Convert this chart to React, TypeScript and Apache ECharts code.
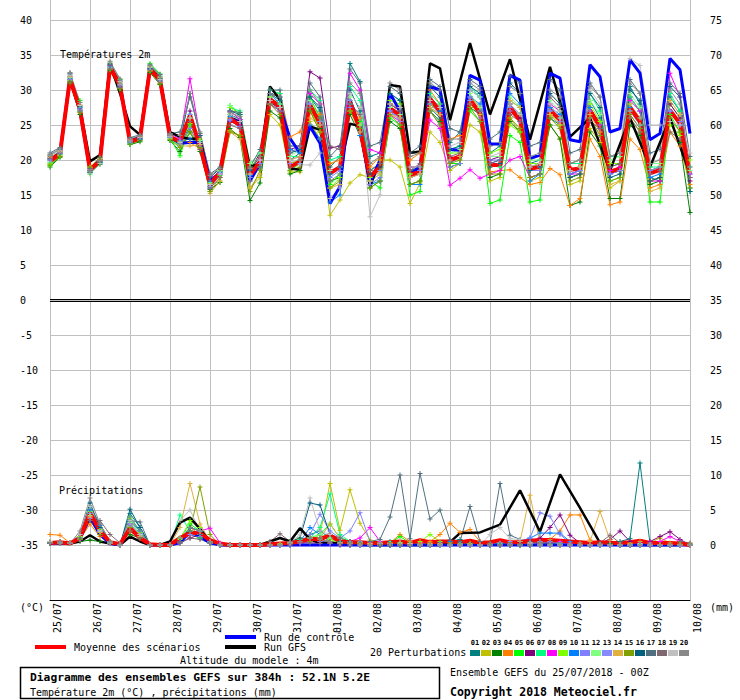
import React, { useEffect, useRef } from "react";
import * as echarts from "echarts";

// ---------- axis / tick data ----------
const dateLabels = ["25/07", "26/07", "27/07", "28/07", "29/07", "30/07", "31/07", "01/08", "02/08", "03/08", "04/08", "05/08", "06/08", "07/08", "08/08", "09/08", "10/08"];
const tempTicks = [-35, -30, -25, -20, -15, -10, -5, 0, 5, 10, 15, 20, 25, 30, 35, 40];
const precipTicks = [0, 5, 10, 15, 20, 25, 30, 35, 40, 45, 50, 55, 60, 65, 70, 75];
const stepHours = 6;

const memberIds = ["01", "02", "03", "04", "05", "06", "07", "08", "09", "10", "11", "12", "13", "14", "15", "16", "17", "18", "19", "20"];
const memberColors = ["#008080", "#c0c000", "#008000", "#ff8000", "#00ff00", "#800080", "#00ff80", "#ff00ff", "#80ff00", "#0080ff", "#8080ff", "#80ff80", "#8888ff", "#e0b040", "#80a000", "#006080", "#507080", "#806870", "#c0c0c0", "#888888"];

// ---------- temperature 2m (°C), 6-hourly ----------
const t01 = [20.2, 21.3, 32.0, 27.5, 18.4, 19.6, 33.5, 31.0, 22.8, 23.4, 33.2, 31.8, 23.6, 22.0, 25.0, 22.6, 16.0, 18.8, 26.5, 25.8, 18.6, 20.5, 29.5, 28.5, 20.0, 21.0, 29.0, 27.0, 19.0, 20.5, 33.8, 31.2, 20.5, 21.0, 28.0, 27.0, 17.5, 18.0, 27.5, 26.0, 22.5, 24.0, 30.0, 29.0, 21.0, 22.0, 28.0, 26.5, 19.5, 20.0, 26.0, 25.0, 17.5, 18.0, 28.5, 26.0, 19.0, 19.5, 30.5, 28.0, 17.5, 17.0, 29.0, 27.0, 16.0];
const t02 = [19.5, 20.6, 31.2, 26.8, 18.9, 20.2, 33.0, 30.2, 22.4, 22.8, 32.7, 31.0, 23.0, 22.2, 24.5, 21.5, 15.5, 17.0, 24.2, 23.5, 16.0, 17.5, 26.5, 25.0, 18.3, 18.3, 25.5, 23.0, 12.1, 14.3, 16.7, 17.9, 17.5, 20.0, 20.0, 19.0, 13.8, 16.7, 24.0, 22.5, 18.5, 19.5, 25.0, 24.0, 17.0, 17.5, 26.0, 24.0, 17.0, 17.5, 25.0, 23.0, 16.5, 17.0, 24.5, 22.5, 16.0, 17.0, 26.0, 24.0, 17.0, 17.5, 28.0, 26.0, 17.5];
const t03 = [19.0, 20.4, 31.0, 26.5, 18.2, 19.4, 32.8, 30.0, 22.2, 22.6, 32.5, 30.8, 22.8, 21.2, 24.0, 21.2, 15.8, 16.8, 24.5, 23.2, 14.2, 16.7, 27.0, 26.0, 18.0, 18.5, 27.0, 24.5, 17.0, 17.5, 26.5, 23.5, 16.0, 17.0, 25.5, 24.5, 16.5, 17.0, 27.0, 25.5, 19.0, 19.5, 27.5, 26.5, 17.5, 18.0, 25.5, 24.0, 17.5, 18.0, 25.0, 23.0, 13.5, 14.0, 24.0, 22.0, 14.5, 14.5, 25.0, 23.5, 16.5, 17.0, 25.5, 22.5, 12.5];
const t04 = [20.5, 21.0, 31.8, 27.8, 18.8, 20.0, 33.6, 31.2, 22.9, 23.3, 33.3, 31.6, 23.5, 22.8, 22.5, 21.6, 16.8, 18.5, 26.0, 25.5, 18.0, 20.0, 29.0, 29.5, 23.3, 24.0, 28.0, 26.5, 19.5, 20.0, 28.5, 26.0, 19.0, 20.5, 28.0, 27.5, 20.0, 21.0, 30.0, 28.0, 23.0, 23.5, 29.0, 27.5, 18.3, 18.5, 18.6, 17.5, 16.5, 16.8, 18.8, 17.9, 13.5, 14.5, 23.0, 20.5, 13.6, 14.0, 23.0, 21.5, 16.0, 16.5, 24.0, 22.0, 16.5];
const t05 = [19.2, 20.5, 31.4, 28.5, 18.0, 19.6, 33.9, 31.5, 22.3, 22.9, 33.8, 32.3, 23.2, 20.6, 25.0, 22.5, 16.2, 17.8, 27.8, 26.5, 17.5, 19.0, 28.0, 28.0, 18.5, 19.5, 29.0, 26.0, 16.5, 18.0, 27.0, 25.5, 17.0, 16.0, 26.0, 25.0, 15.0, 15.5, 28.0, 27.0, 19.5, 19.5, 27.0, 25.5, 13.8, 14.3, 23.5, 22.5, 14.0, 14.3, 26.5, 25.0, 17.5, 18.0, 27.5, 25.0, 17.0, 17.5, 28.0, 25.0, 14.0, 14.0, 26.5, 24.0, 15.5];
const t06 = [20.0, 21.0, 31.5, 27.0, 18.5, 20.0, 33.2, 30.5, 22.5, 23.0, 33.0, 31.2, 23.4, 22.5, 27.0, 22.2, 16.3, 18.0, 25.5, 25.0, 18.5, 21.0, 29.0, 27.5, 21.5, 22.0, 32.6, 31.7, 21.7, 22.0, 27.5, 25.0, 18.5, 19.5, 28.0, 27.0, 19.0, 19.0, 28.5, 27.0, 20.0, 20.5, 28.5, 27.0, 20.0, 20.5, 28.0, 26.0, 18.5, 19.0, 27.5, 26.0, 18.0, 18.5, 26.5, 24.5, 18.0, 18.5, 29.0, 27.0, 18.5, 19.0, 28.0, 26.0, 17.0];
const t07 = [19.6, 20.8, 31.7, 27.5, 18.3, 19.8, 33.4, 30.8, 22.4, 23.0, 33.4, 31.9, 23.0, 22.0, 26.5, 21.8, 16.8, 18.4, 27.5, 27.0, 19.5, 21.0, 30.0, 29.5, 20.5, 20.5, 30.0, 28.5, 20.0, 20.5, 30.5, 28.5, 18.5, 19.5, 29.5, 28.5, 18.0, 18.5, 29.5, 28.0, 21.5, 22.0, 30.5, 29.0, 19.5, 19.0, 28.5, 27.5, 19.0, 19.5, 27.0, 26.0, 19.5, 19.5, 29.5, 27.0, 20.5, 20.5, 29.0, 27.0, 19.0, 19.0, 29.5, 27.0, 19.0];
const t08 = [20.3, 21.2, 31.9, 27.3, 18.7, 20.1, 33.5, 30.8, 22.8, 23.2, 33.1, 31.5, 23.8, 23.0, 31.6, 23.5, 17.5, 18.0, 27.0, 25.8, 18.5, 20.0, 28.0, 27.0, 19.5, 20.0, 29.5, 28.0, 18.5, 19.0, 32.4, 30.0, 21.5, 21.0, 26.5, 25.5, 17.5, 18.0, 25.7, 24.5, 16.4, 17.4, 18.6, 17.4, 18.0, 18.5, 20.0, 20.5, 17.5, 18.0, 28.0, 27.0, 18.0, 18.0, 27.5, 25.0, 18.5, 19.0, 28.5, 27.0, 17.0, 17.0, 32.4, 29.0, 18.0];
const t09 = [19.4, 20.7, 31.3, 27.0, 19.0, 20.3, 33.0, 30.3, 22.6, 23.1, 32.8, 31.3, 23.1, 22.4, 25.2, 23.0, 16.6, 18.5, 27.5, 26.5, 19.0, 20.5, 29.0, 27.5, 19.5, 20.0, 27.5, 24.0, 16.0, 17.5, 28.0, 25.0, 17.5, 18.5, 28.5, 28.0, 18.0, 18.0, 27.5, 26.5, 21.0, 21.0, 28.5, 27.0, 21.0, 21.5, 25.0, 24.0, 19.5, 19.5, 26.5, 25.0, 18.5, 19.0, 28.0, 25.5, 19.5, 19.5, 27.0, 25.0, 18.5, 19.0, 25.0, 23.5, 20.0];
const t10 = [20.1, 20.9, 31.6, 27.0, 18.5, 19.8, 33.3, 30.6, 22.7, 23.1, 33.0, 31.4, 23.3, 22.8, 23.0, 22.5, 17.0, 18.2, 26.2, 25.5, 17.8, 19.0, 29.5, 28.0, 21.5, 21.0, 25.0, 23.0, 14.0, 15.0, 28.0, 23.5, 16.5, 17.0, 27.0, 26.0, 16.5, 16.5, 28.5, 27.0, 19.5, 20.5, 29.0, 28.0, 19.5, 20.0, 29.5, 28.0, 17.0, 18.0, 27.5, 26.5, 18.0, 18.5, 27.5, 24.5, 18.0, 18.5, 27.5, 26.0, 17.5, 18.0, 27.0, 25.0, 17.5];
const t11 = [19.9, 20.9, 31.5, 27.4, 18.6, 19.9, 33.1, 30.4, 22.5, 23.0, 32.9, 31.2, 23.2, 22.3, 24.5, 22.0, 16.0, 18.0, 25.8, 24.5, 17.0, 20.0, 28.5, 27.0, 20.0, 20.5, 28.0, 25.0, 17.5, 18.5, 27.5, 24.0, 16.5, 17.5, 27.0, 26.0, 17.5, 18.5, 27.0, 25.0, 19.0, 19.5, 29.0, 27.0, 20.0, 20.0, 27.5, 25.5, 18.5, 18.5, 27.0, 25.5, 18.0, 18.5, 26.0, 23.5, 18.0, 18.5, 26.5, 24.5, 18.5, 19.0, 27.0, 25.5, 18.0];
const t12 = [19.7, 21.1, 31.8, 27.0, 18.4, 19.7, 33.2, 30.7, 22.6, 23.2, 33.2, 31.6, 23.4, 22.6, 26.0, 22.8, 16.5, 18.5, 27.8, 26.8, 19.5, 21.0, 29.0, 28.0, 20.5, 21.5, 28.5, 25.5, 18.5, 19.0, 29.0, 25.0, 17.0, 18.0, 27.5, 26.5, 17.5, 18.0, 29.0, 27.5, 21.0, 21.5, 29.5, 27.5, 20.5, 20.5, 29.0, 27.5, 20.0, 20.0, 28.5, 27.0, 19.5, 20.0, 28.5, 26.5, 20.0, 20.5, 29.5, 27.5, 19.5, 19.5, 28.5, 26.5, 18.5];
const t13 = [20.0, 21.0, 31.5, 27.2, 18.5, 19.9, 33.3, 30.6, 22.6, 23.1, 33.0, 31.3, 23.3, 22.5, 26.5, 22.2, 16.2, 18.1, 25.6, 24.8, 17.5, 19.5, 28.5, 27.5, 19.5, 19.5, 28.0, 25.5, 18.0, 19.0, 28.5, 24.5, 17.0, 18.5, 27.0, 25.5, 17.5, 18.0, 28.0, 26.5, 20.0, 20.5, 28.5, 26.0, 19.5, 19.5, 27.0, 25.5, 18.5, 19.0, 27.0, 25.5, 18.5, 18.5, 27.0, 24.5, 18.0, 18.5, 27.0, 25.0, 18.0, 18.5, 27.0, 25.0, 17.5];
const t14 = [20.4, 21.2, 31.9, 27.9, 18.7, 20.1, 33.6, 31.0, 22.9, 23.4, 33.4, 31.8, 23.6, 22.0, 22.0, 22.2, 15.2, 17.0, 24.0, 23.0, 16.0, 18.0, 28.0, 27.5, 20.0, 20.5, 26.0, 25.0, 16.0, 16.5, 27.0, 24.0, 17.0, 18.0, 26.5, 26.0, 17.5, 18.0, 27.5, 26.5, 20.0, 20.5, 28.0, 26.5, 19.0, 19.5, 28.5, 27.5, 18.5, 19.0, 26.5, 25.0, 17.5, 18.0, 26.5, 24.0, 16.5, 17.0, 28.0, 26.0, 15.5, 16.0, 28.5, 26.5, 17.5];
const t15 = [19.3, 20.5, 31.0, 26.8, 18.9, 20.0, 32.9, 30.2, 22.3, 22.8, 32.7, 30.9, 22.9, 21.8, 24.0, 21.8, 15.5, 17.5, 24.0, 23.5, 15.5, 18.5, 28.0, 26.5, 18.5, 19.0, 27.0, 24.0, 16.0, 17.0, 27.0, 24.5, 16.0, 17.0, 26.5, 25.0, 16.5, 17.0, 27.0, 25.0, 19.5, 20.0, 27.5, 25.5, 18.0, 18.0, 26.0, 24.5, 17.5, 18.0, 26.0, 24.5, 17.0, 17.5, 26.0, 23.5, 17.0, 17.5, 26.5, 24.5, 17.0, 17.5, 26.0, 24.0, 16.0];
const t16 = [20.6, 21.5, 32.3, 27.6, 18.2, 19.6, 33.6, 31.2, 22.6, 23.0, 33.1, 31.6, 23.5, 22.5, 29.5, 23.5, 17.5, 18.8, 27.0, 26.5, 18.5, 20.5, 29.5, 29.0, 21.0, 21.5, 29.0, 27.5, 18.0, 19.0, 30.0, 27.0, 18.0, 19.0, 29.5, 28.5, 18.5, 19.0, 30.5, 29.0, 21.5, 22.0, 30.5, 29.5, 19.0, 19.5, 31.0, 29.5, 18.5, 19.0, 29.5, 28.0, 17.5, 18.0, 29.5, 27.5, 17.5, 18.0, 30.0, 28.5, 17.0, 17.5, 30.5, 29.0, 15.5];
const t17 = [21.0, 21.8, 32.4, 27.8, 18.8, 20.4, 33.8, 31.4, 23.2, 23.6, 33.6, 32.2, 23.8, 24.0, 29.0, 23.8, 18.0, 19.0, 27.0, 26.8, 19.0, 21.5, 30.0, 30.0, 22.0, 22.0, 31.0, 29.0, 20.5, 22.0, 33.0, 31.0, 22.0, 22.5, 30.5, 29.5, 21.0, 22.0, 31.5, 30.5, 24.5, 24.0, 31.5, 30.5, 23.0, 24.0, 32.0, 31.0, 22.0, 22.5, 31.5, 30.0, 21.0, 21.5, 31.0, 29.0, 20.5, 21.0, 31.5, 29.5, 21.0, 21.5, 31.0, 29.5, 20.5];
const t18 = [20.2, 21.0, 31.2, 27.0, 18.5, 19.8, 33.0, 30.4, 22.8, 23.3, 32.9, 31.3, 23.5, 22.4, 25.5, 21.5, 16.0, 17.5, 25.0, 24.5, 17.0, 19.0, 28.0, 27.0, 19.0, 20.0, 27.5, 26.0, 22.0, 21.5, 28.0, 26.5, 18.5, 19.5, 28.0, 27.0, 18.5, 19.5, 29.0, 27.5, 20.5, 21.0, 28.0, 27.0, 19.5, 20.0, 26.5, 25.5, 19.0, 19.5, 29.0, 27.5, 19.5, 20.0, 25.5, 24.5, 19.0, 19.5, 26.0, 24.0, 18.0, 18.5, 24.0, 23.0, 17.5];
const t19 = [20.7, 21.4, 32.1, 27.8, 18.1, 19.5, 34.0, 31.2, 22.7, 23.2, 33.2, 31.5, 23.4, 22.5, 26.0, 22.5, 16.5, 18.0, 26.5, 25.5, 18.0, 20.0, 28.5, 27.5, 20.0, 19.3, 19.3, 21.0, 14.5, 16.0, 29.5, 27.5, 11.9, 15.0, 28.0, 27.5, 19.0, 19.0, 28.5, 27.5, 22.0, 22.5, 30.0, 29.0, 20.5, 21.0, 28.0, 26.5, 19.0, 19.5, 28.0, 26.0, 18.5, 19.0, 30.0, 28.0, 20.5, 21.0, 34.5, 33.5, 25.0, 25.0, 25.5, 25.0, 21.0];
const t20 = [20.8, 21.6, 32.5, 28.2, 18.4, 19.9, 34.1, 31.6, 23.0, 23.5, 33.5, 32.0, 23.7, 23.5, 29.5, 24.0, 17.8, 18.8, 26.8, 26.2, 18.8, 20.5, 29.5, 29.0, 21.0, 22.0, 30.0, 28.0, 17.0, 18.0, 31.0, 29.5, 19.5, 20.5, 31.0, 30.0, 20.5, 21.0, 31.0, 30.0, 23.0, 23.0, 31.0, 30.0, 22.0, 22.5, 30.5, 29.5, 20.5, 21.0, 30.0, 29.0, 19.5, 20.0, 30.5, 29.0, 20.5, 21.0, 31.0, 29.5, 19.5, 20.0, 30.0, 28.0, 19.0];
const controlTemp = [19.9, 21.0, 31.7, 27.0, 18.5, 19.9, 33.4, 30.8, 22.7, 23.2, 33.1, 31.4, 23.3, 22.4, 22.5, 22.5, 17.1, 18.0, 26.0, 25.3, 17.0, 19.5, 28.5, 27.5, 23.1, 21.0, 24.8, 22.4, 13.8, 16.2, 28.6, 24.5, 16.7, 20.0, 29.5, 27.0, 18.0, 19.0, 30.5, 30.0, 21.5, 21.4, 32.1, 31.4, 22.3, 22.3, 32.1, 31.4, 20.2, 20.7, 32.4, 31.7, 22.9, 22.6, 33.6, 31.9, 24.0, 24.5, 34.3, 32.4, 22.9, 23.8, 34.5, 32.9, 23.8];
const meanTemp = [19.8, 20.9, 31.6, 27.2, 18.6, 19.9, 33.3, 30.6, 22.6, 23.1, 33.0, 31.4, 23.3, 22.6, 26.4, 22.0, 16.5, 18.3, 25.9, 25.0, 17.8, 19.8, 28.7, 27.6, 19.0, 19.8, 27.9, 25.2, 18.1, 19.0, 28.3, 24.3, 17.6, 19.0, 27.4, 26.4, 17.9, 18.3, 28.8, 26.9, 20.0, 20.5, 28.6, 26.7, 19.3, 19.3, 27.4, 25.7, 18.8, 19.0, 27.1, 25.7, 18.6, 18.8, 27.1, 24.8, 18.3, 18.8, 27.5, 25.5, 18.1, 18.6, 27.1, 25.2, 17.9];
// GFS operational: 6-hourly to 240h, then 12-hourly
const gfsTemp6h = [20.0, 21.0, 31.3, 27.5, 19.8, 20.7, 33.8, 29.5, 24.8, 23.6, 33.1, 31.7, 24.0, 23.3, 23.0, 23.1, 16.9, 18.3, 26.0, 25.5, 19.0, 19.5, 30.5, 28.6, 18.8, 18.6, 24.8, 24.3, 18.1, 19.0, 25.2, 24.8, 16.2, 20.0, 30.7, 30.5, 21.0, 21.2, 33.8, 33.1, 25.7];
const gfsTempHours12h = [252, 264, 276, 288, 300, 312, 324, 336, 348, 360, 372, 384];
const gfsTemp12h = [36.7, 26.5, 34.4, 22.9, 33.3, 23.3, 26.0, 18.5, 26.0, 19.0, 26.0, 18.0];

// ---------- precipitation (mm per 6h) ----------
const p01 = [0.3, 0.5, 0.2, 1.0, 5.0, 2.0, 0.3, 0, 4.5, 2.5, 0, 0, 0, 0.5, 1.5, 2.0, 0.5, 0, 0, 0, 0, 0, 0, 0, 0.2, 0.5, 1.5, 2.0, 1.0, 0.3, 0.2, 0, 0, 0.2, 0.5, 0.3, 0, 0, 0.2, 0.3, 0.5, 0.8, 0.3, 0, 0, 0.2, 0, 0, 0, 0.5, 0.3, 0, 0, 0, 0, 0, 0.2, 0.5, 0.9, 11.7, 0.2, 0, 0, 0, 0];
const p02 = [0.2, 0.3, 0.2, 1.2, 4.0, 1.5, 0.2, 0, 3.0, 1.5, 0, 0, 0, 0.3, 2.0, 1.0, 0.2, 0, 0, 0, 0, 0, 0, 0.2, 0.5, 1.0, 0.5, 1.5, 8.8, 2.1, 7.9, 3.1, 0.7, 0.2, 0, 0, 0, 0, 0.2, 0, 0, 0, 0.2, 0, 0, 0, 0, 0, 0.3, 0, 0, 0, 0, 0, 0, 0, 0, 0, 0.2, 0.5, 0.3, 1.0, 0.3, 0, 0];
const p03 = [0.5, 0.3, 0.2, 0.5, 0.7, 0.5, 0.2, 0, 1.5, 1.0, 0, 0, 0, 0.5, 1.5, 1.0, 0.3, 0, 0, 0, 0, 0, 0, 0, 0, 0.3, 0.5, 0.5, 0.3, 0.2, 0.2, 0.5, 0.2, 0, 0, 0.3, 0.2, 0, 0, 0, 0.2, 0.3, 0, 0, 0, 0.2, 0.3, 0, 0, 0, 0, 0, 0, 0, 0, 0.3, 0.2, 0, 0, 0, 0, 0, 0, 0, 0];
const p04 = [1.5, 1.4, 0.3, 0.8, 3.0, 1.2, 0.3, 0, 2.0, 1.0, 0, 0, 0, 0.5, 2.5, 1.5, 0.5, 0, 0, 0, 0, 0, 0, 0, 0.3, 0.5, 1.0, 0.8, 0.5, 0.3, 0, 0.3, 0.5, 0.3, 0.3, 1.5, 0.5, 0.2, 0.5, 1.5, 3.1, 1.8, 2.2, 0.5, 0.2, 0, 0.3, 0.2, 0.3, 0.5, 0.8, 2.0, 4.3, 4.3, 0.7, 0.2, 0, 0, 0.3, 0.2, 0, 0, 0, 0, 0];
const p05 = [0.3, 0.5, 0.3, 1.0, 4.5, 2.5, 0.5, 0, 3.5, 1.5, 0, 0, 0, 1.0, 3.0, 2.0, 0.5, 0, 0, 0, 0, 0, 0, 0, 0.5, 0.5, 1.0, 1.5, 3.0, 1.0, 0.5, 0.3, 0.2, 0.5, 0.3, 1.2, 0.3, 0, 0, 0.2, 0, 0, 0, 0, 0, 0, 0, 0, 0, 0.3, 0.5, 0.3, 0, 0, 0, 0, 0, 0, 0, 0, 0, 0, 0, 0, 0];
const p06 = [0.2, 0.3, 0.2, 0.8, 3.5, 1.5, 0.2, 0, 2.5, 1.0, 0, 0, 0, 0.3, 1.0, 1.5, 0.5, 0, 0, 0, 0, 0, 0, 0, 0, 0.2, 0.5, 0.3, 0.2, 0, 0, 0, 0.2, 0, 0, 0, 0, 0, 0, 0.2, 0.3, 0, 0, 0, 0, 0, 0.2, 0.3, 0.5, 1.0, 2.5, 4.3, 1.4, 0.3, 0, 0.3, 0.8, 2.0, 0.5, 0.2, 0.5, 1.2, 1.9, 0.8, 0];
const p07 = [0.3, 0.5, 0.3, 1.5, 5.5, 2.0, 0.3, 0, 4.0, 2.0, 0, 0, 0, 4.3, 2.0, 1.0, 0.3, 0, 0, 0, 0, 0, 0, 0, 0.3, 0.8, 1.0, 2.5, 7.3, 1.5, 0.5, 0.3, 0, 0, 0, 0.3, 0, 0, 0, 0, 0, 0, 0, 0, 0, 0.2, 0, 0, 0, 0, 0.3, 0, 0, 0, 0, 0, 0, 0, 0, 0, 0, 0, 0, 0, 0];
const p08 = [0.2, 0.3, 0.2, 0.7, 4.0, 2.0, 0.3, 0, 3.0, 1.5, 0, 0, 0, 0.5, 1.5, 2.0, 2.4, 0.3, 0, 0, 0, 0, 0, 0, 0.2, 0.3, 0.5, 0.5, 0.3, 0.2, 0.5, 1.0, 2.5, 0.5, 0, 0, 0.2, 0, 0, 0, 0, 0, 0, 0, 0, 0, 0, 0, 0, 0.3, 0.3, 0.5, 0, 0, 0, 0, 0, 0, 0, 0.3, 0.3, 0.5, 1.2, 0.5, 0];
const p09 = [0.5, 0.3, 0.2, 1.2, 4.8, 2.2, 0.3, 0, 3.8, 1.8, 0, 0, 0, 0.8, 3.5, 2.5, 0.3, 0, 0, 0, 0, 0, 0, 0, 0.3, 0.5, 1.0, 1.0, 0.8, 0.3, 0.3, 0.3, 0.5, 0.2, 0.2, 0.3, 0.2, 0.5, 1.5, 0.5, 0.3, 0.2, 0, 0, 0, 0, 0, 0, 0, 0, 0, 0, 0, 0, 0, 0, 0, 0, 0, 0, 0, 0, 0, 0, 0];
const p10 = [0.3, 0.3, 0.2, 1.5, 5.0, 2.8, 0.5, 0, 3.5, 2.0, 0, 0, 0, 0.5, 2.5, 2.0, 0.5, 0, 0, 0, 0, 0, 0, 0, 0.2, 0.5, 2.5, 1.5, 0.5, 0.2, 0, 0, 0, 0, 0, 0, 0, 0, 0, 0.3, 0.5, 0.3, 0, 0, 0, 0, 0, 0.5, 1.0, 1.7, 1.7, 1.7, 0.5, 0, 0, 0, 0, 0, 0, 0, 0, 0, 0, 0, 0];
const p11 = [0.2, 0.5, 0.3, 1.0, 4.5, 2.0, 0.3, 0, 3.0, 1.5, 0, 0, 0, 0.5, 2.0, 1.5, 0.3, 0, 0, 0, 0, 0, 0, 0, 0.2, 0.5, 1.5, 4.4, 2.0, 1.0, 2.0, 4.6, 0.5, 0.2, 0, 0, 0, 0, 0, 0, 0, 0, 0, 0, 0, 0, 0.2, 0.5, 1.0, 4.6, 4.1, 1.5, 0.3, 0, 0, 0, 0, 0, 0, 0, 0, 0, 0, 0, 0];
const p12 = [0.3, 0.3, 0.2, 1.0, 4.2, 2.0, 0.5, 0, 3.2, 1.5, 0, 0, 0, 1.0, 2.0, 1.5, 0.3, 0, 0, 0, 0, 0, 0, 0, 0.3, 0.5, 1.0, 1.5, 1.0, 0.5, 0.3, 0.3, 0.2, 0, 0.2, 0, 0, 0, 0, 0, 0, 0, 0, 0, 0, 0, 0, 0, 0, 0, 0, 0, 0, 0, 0, 0, 0, 0, 0, 0.2, 0, 0, 0, 0, 0];
const p13 = [0.2, 0.3, 0.2, 0.8, 3.8, 1.8, 0.3, 0, 2.8, 1.2, 0, 0, 0, 0.3, 1.5, 1.2, 0.3, 0, 0, 0, 0, 0, 0, 0, 0, 0.3, 0.5, 0.5, 0.3, 0.2, 0.2, 0.5, 0.3, 0, 0, 0, 0, 0, 0, 0, 0, 0, 0, 0, 0, 0.3, 0.5, 0.5, 0.3, 0.5, 0.5, 0.3, 0, 0, 0, 0, 0, 0, 0, 0, 0, 0, 0, 0, 0];
const p14 = [0.3, 0.5, 0.3, 1.0, 4.0, 1.8, 0.3, 0, 2.5, 1.2, 0, 0, 0, 2.5, 8.8, 3.0, 0.5, 0, 0, 0, 0, 0, 0, 0, 0.3, 0.5, 1.0, 1.0, 3.0, 1.0, 0.3, 0.3, 0.2, 0, 0, 0, 0, 0, 0.3, 0.2, 0, 0, 0, 0, 0, 0, 0, 0.5, 7.1, 0.3, 0, 0, 0, 0.3, 0.5, 4.8, 0.7, 0, 0, 0, 0, 0, 0, 0, 0];
const p15 = [0.3, 0.3, 0.2, 0.8, 3.5, 1.5, 0.3, 0, 2.5, 1.0, 0, 0, 0, 0.5, 2.0, 8.3, 1.5, 0, 0, 0, 0, 0, 0, 0, 0.2, 0.5, 0.5, 0.8, 0.5, 0.2, 0.2, 0.2, 0, 0, 0, 0, 0, 0, 0, 0, 0, 0, 0, 0, 0, 0, 0, 0, 0, 0, 0, 0, 0, 0, 0, 0, 0, 0, 0, 0, 0, 0, 0, 0.3, 0.2];
const p16 = [0.3, 0.3, 0.2, 1.5, 6.0, 2.5, 0.3, 0, 5.1, 2.5, 0, 0, 0, 0.5, 2.5, 2.0, 0.5, 0, 0, 0, 0, 0, 0, 0, 0.5, 1.0, 6.0, 5.7, 1.5, 0.5, 0.3, 0, 0, 0, 0, 0, 0, 0, 0, 0, 0, 0, 0, 0, 0, 0, 0, 0, 0, 0, 0, 0, 0, 0, 0, 0, 0, 0, 0, 0, 0, 0, 0, 0, 0];
const p17 = [0.2, 0.3, 0.2, 1.0, 5.5, 3.0, 0.5, 0, 3.5, 3.3, 0, 0, 0, 0.5, 2.0, 1.5, 0.3, 0, 0, 0, 0, 0, 0, 0, 0.3, 0.5, 1.0, 1.0, 1.5, 1.0, 0.5, 0.3, 0.5, 0.8, 4.0, 10.0, 0.9, 10.2, 3.7, 5.0, 0.7, 0.5, 5.5, 0.5, 0.3, 8.8, 1.4, 0.8, 0.5, 0.3, 0.2, 0, 0, 0, 0, 0, 0, 0, 0, 0, 0, 0, 0, 0, 0];
const p18 = [0.3, 0.5, 0.3, 1.5, 3.5, 3.5, 1.5, 0.3, 2.0, 1.0, 0, 0, 0, 0.3, 1.0, 0.8, 0.3, 0, 0, 0, 0, 0, 0.5, 1.6, 0.5, 0.3, 0.3, 0.2, 0.2, 0, 0, 0, 0, 0, 0, 0, 0, 0, 0, 0, 0, 0, 0, 0, 0, 0, 0, 0, 0, 0, 0, 0, 0, 0, 0, 0.3, 1.4, 0.3, 0, 0, 0, 0, 0, 0.5, 0.3];
const p19 = [0.5, 0.3, 0.2, 1.5, 5.5, 2.0, 0.3, 0, 3.5, 1.5, 0, 0, 0, 3.5, 5.0, 2.0, 0.5, 0, 0, 0, 0, 0, 0, 0, 0.3, 1.5, 6.7, 2.0, 1.5, 0.3, 0.2, 0, 0, 0.3, 0.2, 0.3, 0.2, 0, 0, 0, 0, 0, 0, 0, 1.5, 2.5, 0.9, 0.8, 0.3, 0, 0, 0, 0, 0, 0, 0, 0, 0, 0, 0, 0, 0, 0, 0, 0];
const p20 = [0.3, 0.3, 0.2, 2.0, 6.7, 3.0, 0.5, 0, 4.0, 2.0, 0, 0, 0, 1.0, 2.5, 2.0, 0.5, 0, 0, 0, 0, 0, 0, 0, 0.2, 0.5, 1.0, 0.8, 0.5, 0.2, 0.2, 0, 0, 0.3, 0.2, 0, 0, 0, 0, 0, 0, 0, 0, 0, 0, 0, 0, 0, 0, 0, 0, 0, 0, 0, 0, 0, 0, 0, 0, 0, 0, 0, 0, 0, 0];
const controlPrecip = [0.2, 0.3, 0.2, 1.0, 4.0, 1.5, 0.2, 0, 2.5, 1.0, 0, 0, 0, 0.3, 2.0, 1.2, 0.3, 0, 0, 0, 0, 0, 0, 0, 0, 0, 0, 0, 0, 0, 0, 0, 0, 0, 0, 0, 0, 0, 0, 0, 0, 0, 0, 0, 0, 0, 0, 0, 0, 0, 0, 0, 0, 0, 0, 0, 0, 0, 0, 0, 0, 0, 0, 0, 0];
const meanPrecip = [0.3, 0.4, 0.2, 1.0, 4.6, 2.0, 0.4, 0.1, 2.4, 1.0, 0.1, 0, 0, 1.0, 1.7, 1.7, 0.7, 0.2, 0, 0, 0, 0, 0.1, 0.2, 0.3, 0.5, 0.9, 0.8, 1.4, 0.5, 0.4, 0.4, 0.3, 0.3, 0.4, 0.5, 0.3, 0.7, 0.4, 0.5, 0.5, 0.4, 0.6, 0.3, 0.4, 0.7, 0.4, 0.4, 0.6, 0.7, 0.7, 0.6, 0.5, 0.4, 0.3, 0.4, 0.3, 0.3, 0.4, 0.6, 0.3, 0.3, 0.3, 0.2, 0];
const gfsPrecip6h = [0.3, 0.3, 0.2, 0.5, 1.4, 0.5, 0.2, 0, 1.2, 0.5, 0, 0, 0.5, 3.2, 3.9, 2.3, 0.5, 0, 0, 0, 0, 0, 0.5, 1.0, 0.5, 2.4, 0.8, 0.3, 0.3, 0.2, 0.2, 0, 0, 0, 0, 0, 0, 0, 0, 0, 0.4];
const gfsPrecipHours12h = [246, 258, 270, 282, 294, 306, 318, 330, 342, 354, 366, 378];
const gfsPrecip12h = [1.7, 1.8, 2.9, 7.8, 1.9, 10.1, 5.3, 0.3, 0, 0, 0, 0];

const memberTemps = [t01, t02, t03, t04, t05, t06, t07, t08, t09, t10, t11, t12, t13, t14, t15, t16, t17, t18, t19, t20];
const memberPrecips = [p01, p02, p03, p04, p05, p06, p07, p08, p09, p10, p11, p12, p13, p14, p15, p16, p17, p18, p19, p20];

const FONT = '"DejaVu Sans Mono", "Liberation Mono", monospace';
const PLUS = "path://M2,0H3V2H5V3H3V5H2V3H0V2H2Z";

const toPairs = (vals: number[]) => vals.map((v, i) => [i * stepHours, v]);
const withHours = (hours: number[], vals: number[]) => vals.map((v, i) => [hours[i], v]);

function buildOption() {
  const series: any[] = [];
  memberTemps.forEach((vals, k) => {
    series.push({
      name: "T" + memberIds[k], type: "line", xAxisIndex: 0, yAxisIndex: 0,
      data: toPairs(vals), symbol: PLUS, symbolSize: 5, showSymbol: true,
      lineStyle: { width: 1, color: memberColors[k] }, itemStyle: { color: memberColors[k] },
      silent: true, emphasis: { disabled: true },
    });
  });
  memberPrecips.forEach((vals, k) => {
    series.push({
      name: "P" + memberIds[k], type: "line", xAxisIndex: 0, yAxisIndex: 1,
      data: toPairs(vals), symbol: PLUS, symbolSize: 5, showSymbol: true,
      lineStyle: { width: 1, color: memberColors[k] }, itemStyle: { color: memberColors[k] },
      silent: true, emphasis: { disabled: true },
    });
  });
  const thick = (name: string, data: any[], color: string, width: number, yAxisIndex: number, extra: any = {}) => ({
    name, type: "line", xAxisIndex: 0, yAxisIndex, data, showSymbol: false, symbol: "none",
    lineStyle: { width, color }, itemStyle: { color }, silent: true, emphasis: { disabled: true }, ...extra,
  });
  series.push(thick("GFS T", [...toPairs(gfsTemp6h), ...withHours(gfsTempHours12h, gfsTemp12h)], "#000000", 2.5, 0));
  series.push(thick("GFS P", [...toPairs(gfsPrecip6h), ...withHours(gfsPrecipHours12h, gfsPrecip12h)], "#000000", 2.5, 1));
  series.push(thick("Ctrl T", toPairs(controlTemp), "#0000ff", 3, 0));
  series.push(thick("Ctrl P", toPairs(controlPrecip), "#0000ff", 3, 1));
  series.push(thick("Mean T", toPairs(meanTemp), "#ff0000", 4, 0, {
    markLine: {
      silent: true, symbol: "none", label: { show: false }, animation: false,
      lineStyle: { color: "#000", width: 1, type: "solid" },
      emphasis: { disabled: true },
      data: [{ yAxis: 1 / 7 }, { yAxis: -1 / 7 }],
    },
  }));
  series.push(thick("Mean P", toPairs(meanPrecip), "#ff0000", 4, 1));

  const txt = (x: number, y: number, text: string, size = 10, weight: any = "normal", align = "left") => ({
    type: "text", x, y, silent: true, z: 10,
    style: { text, fill: "#000", fontFamily: FONT, fontSize: size, fontWeight: weight, align, verticalAlign: "middle" },
  });
  const ln = (x1: number, y1: number, x2: number, y2: number, color: string, w: number) => ({
    type: "line", silent: true, z: 10, shape: { x1, y1, x2, y2 }, style: { stroke: color, lineWidth: w },
  });

  const graphic: any[] = [
    txt(60, 54, "Températures 2m"),
    txt(59, 490, "Précipitations"),
    txt(20, 607, "(°C)"),
    txt(710, 607, "(mm)"),
    ln(35, 647, 66, 647, "#ff0000", 4),
    txt(74, 647.5, "Moyenne des scénarios"),
    ln(225, 637, 256, 637, "#0000ff", 4),
    txt(264, 637.5, "Run de contrôle"),
    ln(225, 647, 256, 647, "#000000", 4),
    txt(264, 647.5, "Run GFS"),
    txt(180, 660, "Altitude du modele : 4m"),
    { type: "rect", silent: true, z: 10, shape: { x: 20.5, y: 667.5, width: 419, height: 31 }, style: { fill: "#fff", stroke: "#000", lineWidth: 1.5 } },
    txt(30, 677, "Diagramme des ensembles GEFS sur 384h : 52.1N 5.2E", 11.3, "bold"),
    txt(30, 692, "Température 2m (°C) , précipitations (mm)"),
    txt(370, 652, "20 Perturbations"),
    txt(450, 672, "Ensemble GEFS du 25/07/2018 - 00Z"),
    txt(450, 692, "Copyright 2018 Meteociel.fr", 11.5, "bold"),
  ];
  memberIds.forEach((id, k) => {
    const x = 470 + k * 11;
    graphic.push({ type: "rect", silent: true, z: 10, shape: { x, y: 650, width: 10, height: 6 }, style: { fill: memberColors[k] } });
    graphic.push(txt(x + 5, 643, id, 7, "bold", "center"));
  });

  const axisText = { fontFamily: FONT, fontSize: 10, color: "#000" };

  return {
    animation: false,
    backgroundColor: "#ffffff",
    grid: { left: 50, right: 50, top: 0, bottom: 100, containLabel: false },
    xAxis: {
      type: "value", min: 0, max: 384, interval: 24,
      axisLine: { show: true, onZero: false, lineStyle: { color: "#000", width: 1 } },
      axisTick: { show: false },
      axisLabel: {
        ...axisText, rotate: 90, margin: 3, verticalAlign: "top", lineHeight: 14,
        formatter: (v: number) => dateLabels[Math.round(v / 24)] ?? "",
      },
      splitLine: { show: true, lineStyle: { color: "#c0c0c0", width: 1 } },
    },
    yAxis: [
      {
        type: "value", position: "left", min: -300 / 7, max: 300 / 7,
        axisLine: { show: false },
        axisTick: { show: false, customValues: tempTicks },
        axisLabel: { ...axisText, customValues: tempTicks, align: "left", margin: 30, padding: [6, 0, 0, 0] },
        splitLine: { show: true, lineStyle: { color: "#c0c0c0", width: 1 } },
      },
      {
        type: "value", position: "right", min: -55 / 7, max: 545 / 7,
        axisLine: { show: false },
        axisTick: { show: false, customValues: precipTicks },
        axisLabel: { ...axisText, customValues: precipTicks, align: "left", margin: 20, padding: [6, 0, 0, 0] },
        splitLine: { show: false },
      },
    ],
    graphic,
    series,
  };
}

export default function App() {
  const ref = useRef<HTMLDivElement>(null);
  useEffect(() => {
    if (!ref.current) return;
    const chart = echarts.init(ref.current, null, { renderer: "svg" });
    chart.setOption(buildOption() as any);
    return () => chart.dispose();
  }, []);
  return (
    <div
      ref={ref}
      style={{ position: "absolute", left: 0, top: 0, width: 740, height: 700, background: "#fff" }}
    />
  );
}
